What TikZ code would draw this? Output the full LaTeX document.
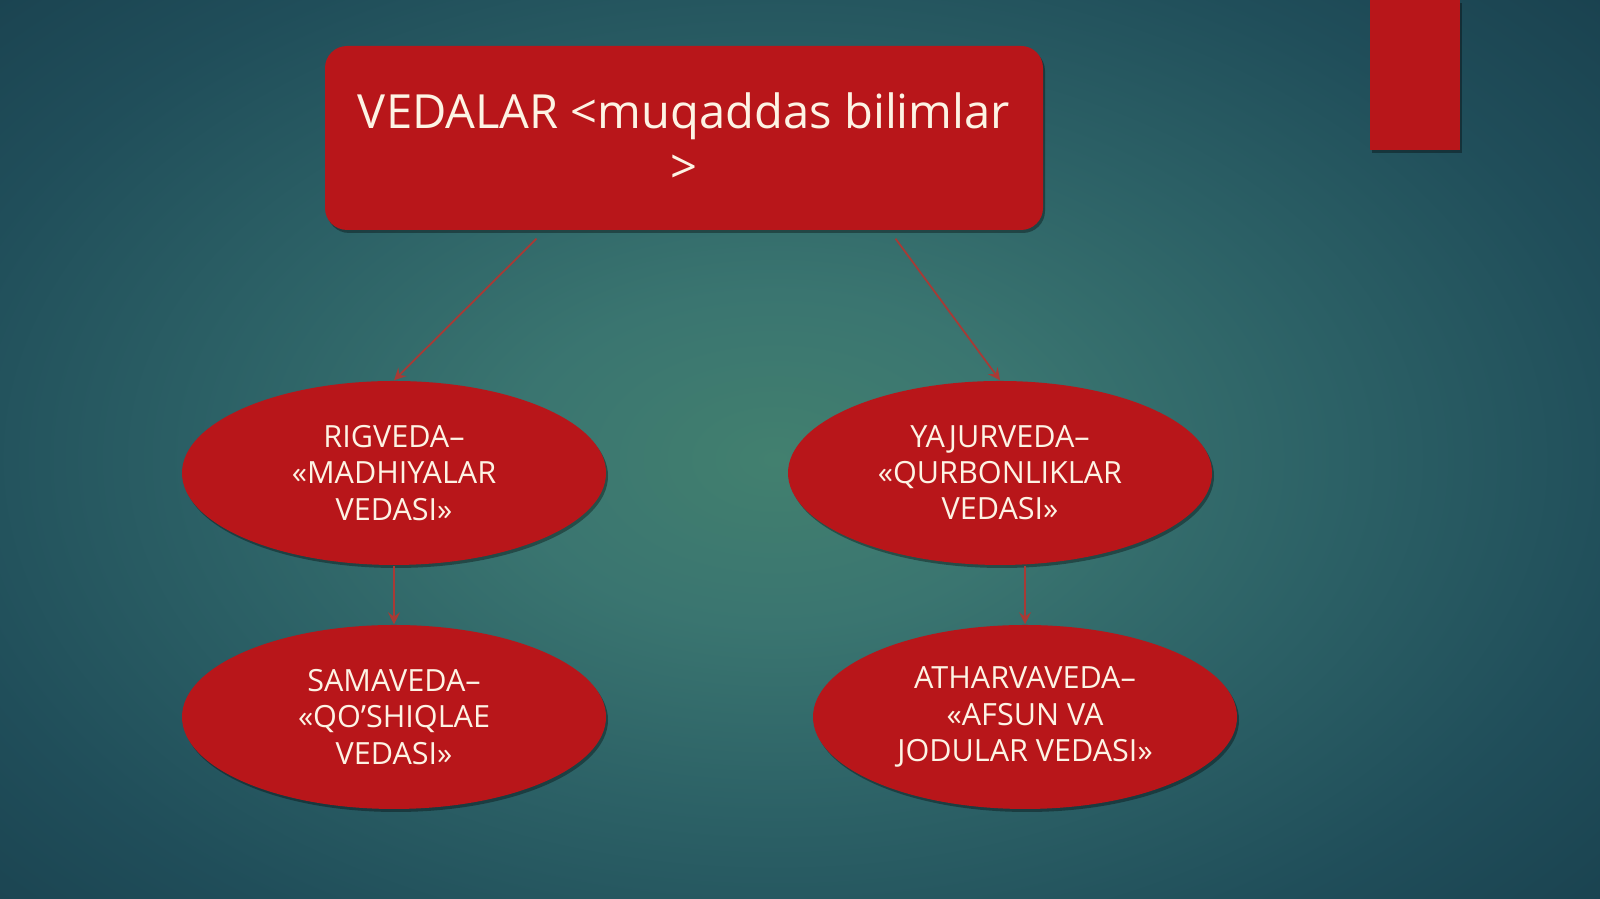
\documentclass[tikz,border=0pt]{standalone}
\usepackage{fontspec}
\setmainfont{Open Sans}
\usepackage{xcolor}
\usepackage{tikz}
\usetikzlibrary{shapes,shadows,arrows,calc}
\definecolor{vedaRed}{HTML}{B8161A}
\definecolor{vedaText}{HTML}{FDF3E4}
\definecolor{vedaLine}{HTML}{A83A35}
\definecolor{bgCentre}{HTML}{42806F}
\definecolor{bgInner}{HTML}{3A7570}
\definecolor{bgMid}{HTML}{2C6166}
\definecolor{bgOuter}{HTML}{204E5A}
\definecolor{bgEdge}{HTML}{183E4C}
\definecolor{bgCorner}{HTML}{143546}
\pgfdeclareradialshading{vedaBackground}{\pgfpoint{0bp}{0bp}}{%
    color(0bp)=(bgCentre); color(8bp)=(bgInner); color(17bp)=(bgMid);
    color(26bp)=(bgOuter); color(36bp)=(bgEdge); color(50bp)=(bgCorner)}
\tikzstyle{tsShadow} = [
    drop shadow={shadow xshift=0.02cm, shadow yshift=-0.03cm, opacity=0.35, fill=black}
]
\tikzstyle{tsRoundedRectangle} = [
    rectangle,
    rounded corners=0.22cm,
    fill=vedaRed,
    tsShadow,
    text=vedaText,
    align=center,
    font=\fontsize{13.4}{15.5}\selectfont
]
\tikzstyle{tsEllipse} = [
    ellipse,
    fill=vedaRed,
    tsShadow,
    text=vedaText,
    align=center,
    inner sep=0pt,
    minimum width=4.24cm,
    minimum height=1.84cm,
    font=\fontsize{8.7}{10.3}\selectfont
]
\tikzstyle{tsConnector} = [
    -stealth,
    vedaLine,
    line width=0.5pt
]
\begin{document}
\begin{tikzpicture}
        \useasboundingbox (0,0) rectangle (16,8.99);
        \shade[shading=vedaBackground] (-0.5,-0.8) rectangle (16,9.6);
        \fill[vedaRed, tsShadow] (13.70,8.99) rectangle (14.60,7.49);

        % Define nodes
        \node[  tsRoundedRectangle,
                minimum width=7.18cm,
                minimum height=1.84cm] (vedalar) at (6.84,7.61) {VEDALAR <muqaddas bilimlar\\>};

        \node[tsEllipse] (rigveda) at (3.94,4.26) {RIGVEDA–\\«MADHIYALAR\\VEDASI»};
        \node[tsEllipse] (yajurveda) at (10.00,4.26) {YAJURVEDA–\\«QURBONLIKLAR\\VEDASI»};
        \node[tsEllipse] (samaveda) at (3.94,1.82) {SAMAVEDA–\\«QO’SHIQLAE\\VEDASI»};
        \node[tsEllipse] (atharvaveda) at (10.25,1.82) {ATHARVAVEDA–\\«AFSUN VA\\JODULAR VEDASI»};

        \coordinate (vlLeft) at ($(vedalar.south west)!0.295!(vedalar.south east)+(0,-0.08)$);
        \coordinate (vlRight) at ($(vedalar.south west)!0.794!(vedalar.south east)+(0,-0.08)$);

        \draw[tsConnector] (vlLeft) -- (rigveda.north);
        \draw[tsConnector] (vlRight) -- (yajurveda.north);
        \draw[tsConnector] (rigveda.south) -- (samaveda.north);
        \draw[tsConnector] (yajurveda.south -| atharvaveda.north) -- (atharvaveda.north);

    \end{tikzpicture}
\end{document}
